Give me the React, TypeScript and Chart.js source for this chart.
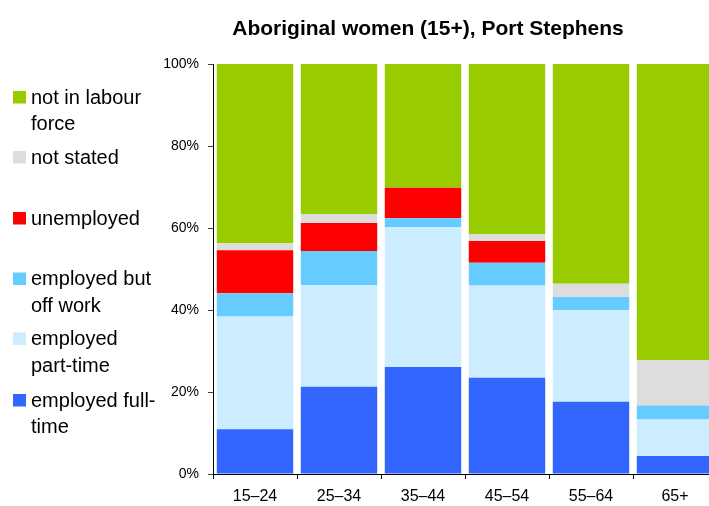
import React, { useEffect, useRef } from "react";
import { Chart, registerables } from "chart.js";

Chart.register(...registerables);

const categories = ["15–24", "25–34", "35–44", "45–54", "55–64", "65+"];
const employedFullTime = [10.9, 21.3, 26.1, 23.5, 17.6, 4.4];
const employedPartTime = [27.5, 24.8, 34.1, 22.5, 22.4, 8.9];
const employedOffWork = [5.7, 8.3, 2.2, 5.5, 3.2, 3.4];
const unemployed = [10.5, 6.8, 7.4, 5.3, 0, 0];
const notStated = [1.7, 2.2, 0, 1.7, 3.2, 11.1];
const notInLabourForce = [43.7, 36.6, 30.2, 41.5, 53.6, 72.2];
const yTicks = [0, 20, 40, 60, 80, 100];

const COLORS = {
  full: "#3366FF",
  part: "#CCECFF",
  off: "#66CCFF",
  unemp: "#FF0000",
  ns: "#DDDDDD",
  nilf: "#99CC00",
};

const legendItems: { color: string; lines: string[]; baseline: number }[] = [
  { color: COLORS.nilf, lines: ["not in labour", "force"], baseline: 103.5 },
  { color: COLORS.ns, lines: ["not stated"], baseline: 163.5 },
  { color: COLORS.unemp, lines: ["unemployed"], baseline: 224.5 },
  { color: COLORS.off, lines: ["employed but", "off work"], baseline: 285 },
  { color: COLORS.part, lines: ["employed", "part-time"], baseline: 345 },
  { color: COLORS.full, lines: ["employed full-", "time"], baseline: 406.5 },
];

const decorPlugin = {
  id: "decor",
  afterDraw(chart: any) {
    const ctx = chart.ctx as CanvasRenderingContext2D;
    ctx.save();
    // title
    ctx.fillStyle = "#000";
    ctx.font = "bold 21px 'Liberation Sans', Arial, sans-serif";
    ctx.textAlign = "center";
    ctx.textBaseline = "alphabetic";
    ctx.fillText("Aboriginal women (15+), Port Stephens", 428, 35);
    // legend
    ctx.font = "20px 'Liberation Sans', Arial, sans-serif";
    ctx.textAlign = "left";
    for (const item of legendItems) {
      ctx.fillStyle = item.color;
      ctx.fillRect(13, item.baseline - 12.5, 13, 12.5);
      ctx.fillStyle = "#000";
      item.lines.forEach((line, i) => {
        ctx.fillText(line, 31, item.baseline + i * 26.7);
      });
    }
    ctx.restore();
  },
};

export default function App() {
  const ref = useRef<HTMLCanvasElement | null>(null);

  useEffect(() => {
    if (!ref.current) return;
    const mk = (label: string, data: number[], color: string) => ({
      label,
      data,
      backgroundColor: color,
      borderWidth: 0,
      barPercentage: 0.91,
      categoryPercentage: 1,
    });
    const chart = new Chart(ref.current, {
      type: "bar",
      data: {
        labels: categories,
        datasets: [
          mk("employed full-time", employedFullTime, COLORS.full),
          mk("employed part-time", employedPartTime, COLORS.part),
          mk("employed but off work", employedOffWork, COLORS.off),
          mk("unemployed", unemployed, COLORS.unemp),
          mk("not stated", notStated, COLORS.ns),
          mk("not in labour force", notInLabourForce, COLORS.nilf),
        ],
      },
      options: {
        responsive: false,
        animation: false,
        layout: { padding: { top: 64, right: 5, left: 0, bottom: 0 } },
        plugins: {
          legend: { display: false },
          title: { display: false },
          tooltip: { enabled: false },
        },
        scales: {
          x: {
            stacked: true,
            offset: true,
            grid: {
              display: true,
              offset: true,
              drawOnChartArea: false,
              drawTicks: true,
              tickLength: 5,
              color: "#000",
            },
            border: { display: true, color: "#000", width: 1 },
            ticks: {
              color: "#000",
              padding: 8,
              maxRotation: 0,
              font: {
                family: "'Liberation Sans', Arial, sans-serif",
                size: 16,
              },
            },
            afterFit(scale: any) {
              scale.height = 32;
            },
          },
          y: {
            stacked: true,
            min: 0,
            max: 100,
            afterBuildTicks(scale: any) {
              scale.ticks = yTicks.map((v) => ({ value: v }));
            },
            grid: {
              display: true,
              drawOnChartArea: false,
              drawTicks: true,
              tickLength: 5,
              color: "#444",
            },
            border: { display: true, color: "#000", width: 1 },
            ticks: {
              color: "#000",
              padding: 9,
              callback: (v: any) => v + "%",
              font: { family: "'Liberation Sans', Arial, sans-serif", size: 14 },
            },
            afterFit(scale: any) {
              scale.width = 213;
            },
          },
        },
      },
      plugins: [decorPlugin],
    });
    return () => chart.destroy();
  }, []);

  return (
    <div
      style={{
        position: "fixed",
        left: 0,
        top: 0,
        width: 709,
        height: 506,
        overflow: "hidden",
        background: "#fff",
      }}
    >
      <canvas ref={ref} width={722} height={506} style={{ display: "block" }} />
    </div>
  );
}
